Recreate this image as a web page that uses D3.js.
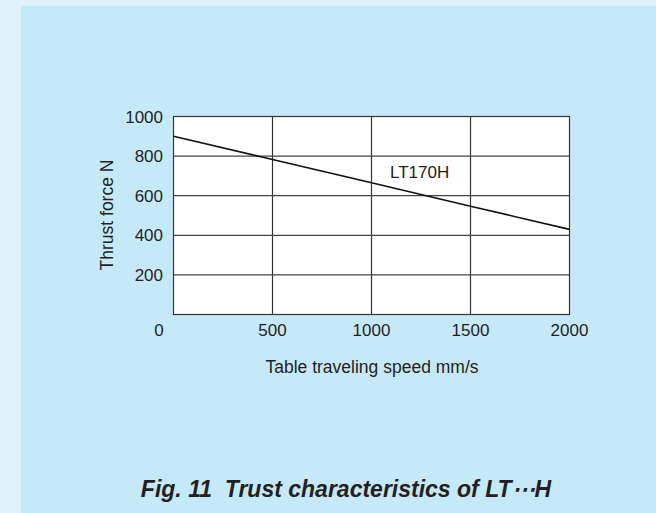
<!DOCTYPE html>
<html><head><meta charset="utf-8">
<script src="https://cdn.jsdelivr.net/npm/d3@7"></script>
<style>html,body{margin:0;padding:0;background:#dff2fb;}svg{display:block;}text{white-space:pre;}</style>
</head><body>
<svg id="c" width="656" height="513"></svg>
<script>
const speeds = [0, 500, 1000, 1500, 2000];
const thrust = [900, 783, 665, 547, 430];
const xTicks = [500, 1000, 1500, 2000];
const yTicks = [200, 400, 600, 800, 1000];
const seriesName = "LT170H";
const xTitle = "Table traveling speed mm/s";
const yTitle = "Thrust force N";
const figTitle = "Fig. 11  Trust characteristics of LT\u22EFH";

const svg = d3.select("#c");
const font = "'Liberation Sans', Arial, Helvetica, sans-serif";
const ink = "#231f20";
const fs = 17;
svg.append("rect").attr("x",0).attr("y",0).attr("width",656).attr("height",513).attr("fill","#dff2fb");
svg.append("rect").attr("x",21).attr("y",6).attr("width",635).attr("height",507).attr("fill","#c6e9f9");

const L=173.5, R=569.5, T=116.5, B=314.5;
const x = d3.scaleLinear().domain([0,2000]).range([L,R]);
const y = d3.scaleLinear().domain([0,1000]).range([B,T]);

svg.append("rect").attr("x",L).attr("y",T).attr("width",R-L).attr("height",B-T).attr("fill","#fff");

const g = svg.append("g");
g.selectAll("line.v").data(xTicks.slice(0,-1)).join("line")
  .attr("x1",d=>x(d)).attr("x2",d=>x(d)).attr("y1",T).attr("y2",B)
  .attr("stroke","#333").attr("stroke-width",1.2);
g.selectAll("line.h").data(yTicks.slice(0,-1)).join("line")
  .attr("y1",d=>y(d)).attr("y2",d=>y(d)).attr("x1",L).attr("x2",R)
  .attr("stroke","#444").attr("stroke-width",1.3);
svg.append("rect").attr("x",L).attr("y",T).attr("width",R-L).attr("height",B-T)
  .attr("fill","none").attr("stroke","#333").attr("stroke-width",1.2);

const line = d3.line().x((d,i)=>x(speeds[i])).y(d=>y(d));
svg.append("path").attr("d",line(thrust)).attr("fill","none").attr("stroke","#111").attr("stroke-width",1.6);

svg.selectAll("text.yt").data(yTicks).join("text")
  .attr("x",163).attr("y",d=>y(d)).attr("dy","0.36em").attr("text-anchor","end")
  .attr("font-family",font).attr("font-size",fs).attr("fill",ink).text(d=>d);
svg.selectAll("text.xt").data(xTicks).join("text")
  .attr("x",d=>x(d)).attr("y",336).attr("text-anchor","middle")
  .attr("font-family",font).attr("font-size",fs).attr("fill",ink).text(d=>d);
svg.append("text").attr("x",159).attr("y",336).attr("text-anchor","middle")
  .attr("font-family",font).attr("font-size",fs).attr("fill",ink).text("0");

svg.append("text").attr("x",390).attr("y",178).attr("font-family",font).attr("font-size",fs)
  .attr("fill",ink).text(seriesName);

svg.append("text").attr("x",372).attr("y",373).attr("text-anchor","middle")
  .attr("font-family",font).attr("font-size",17.5).attr("fill",ink).text(xTitle);
svg.append("text").attr("transform","translate(113,215) rotate(-90)").attr("text-anchor","middle")
  .attr("font-family",font).attr("font-size",17.5).attr("fill",ink).text(yTitle);

svg.append("text").attr("x",346).attr("y",497).attr("text-anchor","middle")
  .attr("font-family",font).attr("font-size",23).attr("font-weight","bold").attr("font-style","italic")
  .attr("fill",ink).text(figTitle);
</script>
</body></html>
